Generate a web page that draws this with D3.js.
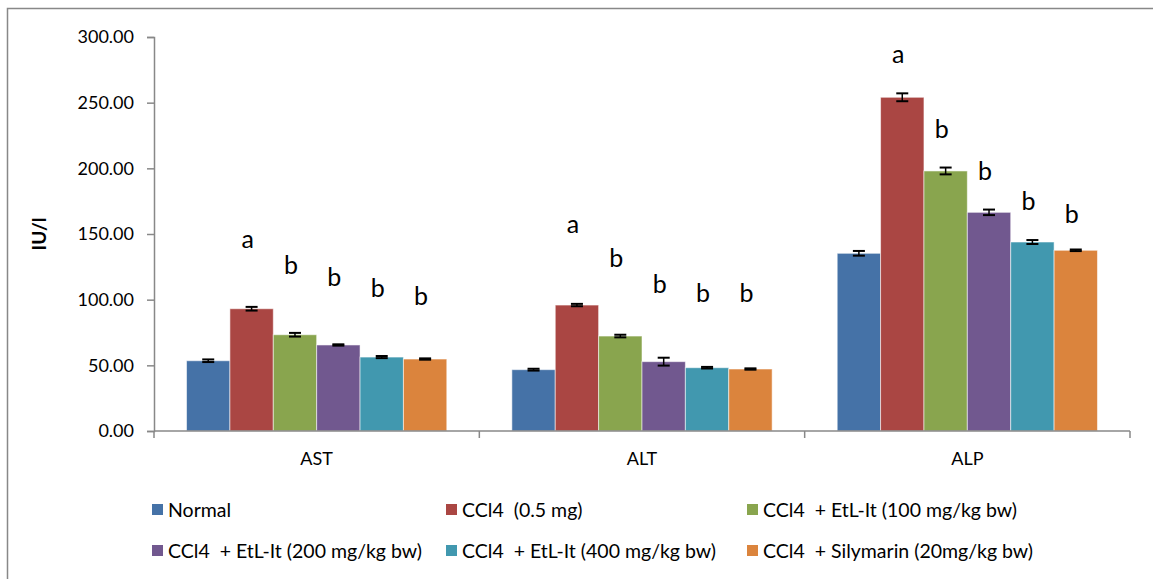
<!DOCTYPE html>
<html>
<head>
<meta charset="utf-8">
<script src="https://cdn.jsdelivr.net/npm/d3@7"></script>
<style>
  body { margin: 0; background: #fff; }
  svg text { font-family: Lato, "Open Sans", sans-serif; fill: #000; white-space: pre; }
</style>
</head>
<body>
<div id="chart"></div>
<script>
/** chart values */
const categories = ['AST', 'ALT', 'ALP'];
const groups = ['Normal', 'CCl4  (0.5 mg)', 'CCl4  + EtL-It (100 mg/kg bw)',
                'CCl4  + EtL-It (200 mg/kg bw)', 'CCl4  + EtL-It (400 mg/kg bw)', 'CCl4  + Silymarin (20mg/kg bw)'];
const colors = ['#4572A7', '#AA4643', '#89A54E', '#71588F', '#4198AF', '#DB843D'];

// one array per group: AST, ALT, ALP
const normalVals = [53.5, 46.7, 135.3];
const ccl4Vals = [93.1, 95.9, 254.1];
const etl100Vals = [73.3, 72.3, 198.0];
const etl200Vals = [65.5, 52.8, 166.5];
const etl400Vals = [56.3, 48.2, 143.9];
const silyVals = [54.8, 47.2, 137.6];

const normalErr = [1.0, 0.7, 1.8];
const ccl4Err = [1.4, 0.9, 3.0];
const etl100Err = [1.4, 1.0, 2.6];
const etl200Err = [0.5, 3.0, 2.1];
const etl400Err = [0.8, 0.6, 1.5];
const silyErr = [0.5, 0.5, 0.6];

// significance letters and the value at which each one sits
const letters = ['', 'a', 'b', 'b', 'b', 'b'];
const letterAST = [null, 139, 119.5, 110.5, 102.3, 96];
const letterALT = [null, 151, 125, 105.3, 98.5, 98];
const letterALP = [null, 280.4, 223, 191, 168.3, 158.6];

const yTicks = [0, 50, 100, 150, 200, 250, 300];

const values = [normalVals, ccl4Vals, etl100Vals, etl200Vals, etl400Vals, silyVals];
const errors = [normalErr, ccl4Err, etl100Err, etl200Err, etl400Err, silyErr];
const letterVals = [letterAST, letterALT, letterALP];

/** canvas */
let width = 1153, height = 579;
let plot = { left: 154, right: 1130, top: 37, bottom: 431 };

let svg = d3.select('#chart').append('svg')
    .attr('width', width)
    .attr('height', height);

// outer chart frame (runs off the page on the right and bottom)
svg.append('rect')
    .attr('x', 7.5).attr('y', 8.5)
    .attr('width', 1160).attr('height', 600)
    .attr('fill', 'none')
    .attr('stroke', '#888')
    .attr('stroke-width', 1.5);

/** scales */
let xScale = d3.scaleBand()
    .domain(categories)
    .range([plot.left, plot.right]);

let x1 = d3.scaleBand()
    .domain(d3.range(groups.length))
    .range([0, xScale.bandwidth()])
    .paddingOuter(0.75);

let yScale = d3.scaleLinear()
    .domain([0, 300])
    .range([plot.bottom, plot.top]);

/** y axis */
let yAxis = d3.axisLeft(yScale)
    .tickValues(yTicks)
    .tickFormat(d3.format('.2f'))
    .tickSize(7)
    .tickPadding(13);

let gy = svg.append('g')
    .attr('transform', `translate(${plot.left},0)`)
    .call(yAxis);
gy.select('.domain').attr('stroke', '#888').attr('stroke-width', 1.5);
gy.selectAll('.tick line').attr('stroke', '#888').attr('stroke-width', 1.5);
gy.selectAll('.tick text').style('font-size', '18px').attr('fill', '#000');

svg.append('text')
    .attr('transform', `translate(46, ${yScale(150)}) rotate(-90)`)
    .attr('text-anchor', 'middle')
    .style('font-size', '19px')
    .style('font-weight', 'bold')
    .text('IU/l');

/** bars */
let barData = [];
categories.forEach(function (c, ci) {
    groups.forEach(function (g, gi) {
        barData.push({ cat: c, ci: ci, gi: gi, v: values[gi][ci], e: errors[gi][ci],
                       letter: letters[gi], lv: letterVals[ci][gi] });
    });
});

let bars = svg.append('g').selectAll('g')
    .data(barData)
    .enter()
    .append('g')
    .attr('transform', d => `translate(${xScale(d.cat) + x1(d.gi)},0)`);

bars.append('rect')
    .attr('x', 0)
    .attr('y', d => yScale(d.v))
    .attr('width', x1.bandwidth())
    .attr('height', d => yScale(0) - yScale(d.v))
    .attr('fill', d => colors[d.gi])
    .attr('stroke', 'rgba(255,255,255,0.55)')
    .attr('stroke-width', 1);

/** error bars */
let cap = 6;
bars.append('line')
    .attr('x1', x1.bandwidth() / 2).attr('x2', x1.bandwidth() / 2)
    .attr('y1', d => yScale(d.v + d.e)).attr('y2', d => yScale(d.v - d.e))
    .attr('stroke', '#000').attr('stroke-width', 1.5);
bars.append('line')
    .attr('x1', x1.bandwidth() / 2 - cap).attr('x2', x1.bandwidth() / 2 + cap)
    .attr('y1', d => yScale(d.v + d.e)).attr('y2', d => yScale(d.v + d.e))
    .attr('stroke', '#000').attr('stroke-width', 2);
bars.append('line')
    .attr('x1', x1.bandwidth() / 2 - cap).attr('x2', x1.bandwidth() / 2 + cap)
    .attr('y1', d => yScale(d.v - d.e)).attr('y2', d => yScale(d.v - d.e))
    .attr('stroke', '#000').attr('stroke-width', 2);

/** letters */
bars.filter(d => d.letter !== '')
    .append('text')
    .attr('x', x1.bandwidth() / 2 - 4)
    .attr('y', d => yScale(d.lv))
    .attr('text-anchor', 'middle')
    .style('font-size', '25px')
    .text(d => d.letter);

/** x axis */
svg.append('line')
    .attr('x1', plot.left).attr('x2', plot.right)
    .attr('y1', plot.bottom).attr('y2', plot.bottom)
    .attr('stroke', '#888').attr('stroke-width', 1.5);

let xEdges = categories.map(c => xScale(c)).concat([plot.right]);
svg.append('g').selectAll('line')
    .data(xEdges)
    .enter()
    .append('line')
    .attr('x1', d => d).attr('x2', d => d)
    .attr('y1', plot.bottom).attr('y2', plot.bottom + 7)
    .attr('stroke', '#888').attr('stroke-width', 1.5);

svg.append('g').selectAll('text')
    .data(categories)
    .enter()
    .append('text')
    .attr('x', d => xScale(d) + xScale.bandwidth() / 2)
    .attr('y', 465)
    .attr('text-anchor', 'middle')
    .style('font-size', '18px')
    .text(d => d);

/** legend */
let legendCols = [152, 446, 747];
let legendRows = [510, 551];

let legend = svg.append('g').selectAll('g')
    .data(groups)
    .enter()
    .append('g')
    .attr('transform', (d, i) => `translate(${legendCols[i % 3]}, ${legendRows[Math.floor(i / 3)]})`);

legend.append('rect')
    .attr('x', 0).attr('y', -6)
    .attr('width', 11).attr('height', 11)
    .attr('fill', (d, i) => colors[i]);

legend.append('text')
    .attr('x', 16)
    .attr('y', 6.5)
    .style('font-size', '19.5px')
    .text(d => d);
</script>
</body>
</html>
